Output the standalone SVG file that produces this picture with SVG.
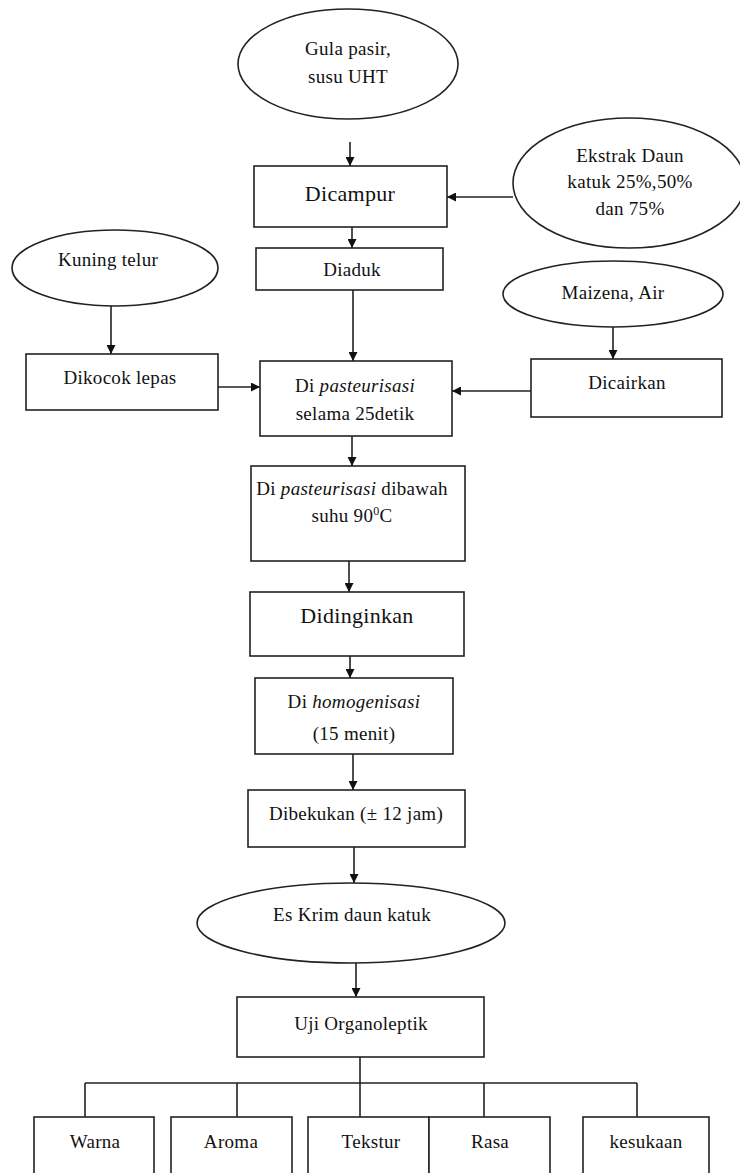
<svg xmlns="http://www.w3.org/2000/svg" width="740" height="1173" viewBox="0 0 740 1173">
<defs>
<marker id="ah" viewBox="0 0 10 10" refX="10" refY="5" markerWidth="9" markerHeight="9" markerUnits="userSpaceOnUse" orient="auto">
<path d="M0,0 L10,5 L0,10 z" fill="#111"/>
</marker>
<style>
.n rect, .n ellipse { fill: #fff; stroke: #222; stroke-width: 1.6; }
.c line, .c polyline { stroke: #222; stroke-width: 1.6; fill: none; }
.c .a { marker-end: url(#ah); }
text { font-family: "Liberation Serif", "Times New Roman", serif; font-size: 19px; fill: #111; text-anchor: middle; letter-spacing: 0.3px; }
.big { font-size: 22px; }
.it { font-style: italic; }
</style>
</defs>
<rect width="740" height="1173" fill="#fff"/>

<g id="connectors" class="c">
<line class="a" x1="350" y1="142" x2="350" y2="166"/>
<line class="a" x1="513" y1="197" x2="447" y2="197"/>
<line class="a" x1="352" y1="227" x2="352" y2="248"/>
<line class="a" x1="111" y1="306" x2="111" y2="354"/>
<line class="a" x1="613" y1="327" x2="613" y2="359"/>
<line class="a" x1="353" y1="290" x2="353" y2="361"/>
<line class="a" x1="218" y1="387" x2="260" y2="387"/>
<line class="a" x1="531" y1="391" x2="452" y2="391"/>
<line class="a" x1="352" y1="436" x2="352" y2="466"/>
<line class="a" x1="349" y1="561" x2="349" y2="592"/>
<line class="a" x1="350" y1="656" x2="350" y2="678"/>
<line class="a" x1="353" y1="754" x2="353" y2="790"/>
<line class="a" x1="354" y1="847" x2="354" y2="883"/>
<line class="a" x1="356" y1="963" x2="356" y2="997"/>
<line x1="360" y1="1057" x2="360" y2="1117"/>
<line x1="85" y1="1083" x2="637" y2="1083"/>
<line x1="85" y1="1083" x2="85" y2="1117"/>
<line x1="237" y1="1083" x2="237" y2="1117"/>
<line x1="484" y1="1083" x2="484" y2="1117"/>
<line x1="637" y1="1083" x2="637" y2="1117"/>
</g>

<g id="gula" class="n">
<ellipse cx="348" cy="64" rx="110" ry="55"/>
<text x="348" y="55">Gula pasir,</text>
<text x="348" y="83">susu UHT</text>
</g>
<g id="dicampur" class="n">
<rect x="254" y="166" width="193" height="61"/>
<text class="big" x="350" y="201">Dicampur</text>
</g>
<g id="ekstrak" class="n">
<ellipse cx="629" cy="183" rx="116" ry="65"/>
<text x="630" y="162">Ekstrak Daun</text>
<text x="630" y="188">katuk 25%,50%</text>
<text x="630" y="215">dan 75%</text>
</g>
<g id="diaduk" class="n">
<rect x="256" y="248" width="187" height="42"/>
<text x="352" y="276">Diaduk</text>
</g>
<g id="kuning" class="n">
<ellipse cx="115" cy="268" rx="103" ry="38"/>
<text x="108" y="266">Kuning telur</text>
</g>
<g id="maizena" class="n">
<ellipse cx="613" cy="294" rx="110" ry="33"/>
<text x="613" y="299">Maizena, Air</text>
</g>
<g id="dikocok" class="n">
<rect x="26" y="354" width="192" height="56"/>
<text x="120" y="384">Dikocok lepas</text>
</g>
<g id="dicairkan" class="n">
<rect x="531" y="359" width="191" height="58"/>
<text x="627" y="389">Dicairkan</text>
</g>
<g id="pasteur1" class="n">
<rect x="260" y="361" width="192" height="75"/>
<text x="355" y="392">Di <tspan class="it">pasteurisasi</tspan></text>
<text x="355" y="420">selama 25detik</text>
</g>
<g id="pasteur2" class="n">
<rect x="251" y="466" width="214" height="95"/>
<text x="352" y="495">Di <tspan class="it">pasteurisasi</tspan> dibawah</text>
<text x="352" y="522">suhu 90<tspan font-size="12" dy="-7">0</tspan><tspan dy="7">C</tspan></text>
</g>
<g id="didinginkan" class="n">
<rect x="250" y="592" width="214" height="64"/>
<text class="big" x="357" y="623">Didinginkan</text>
</g>
<g id="homogen" class="n">
<rect x="255" y="678" width="198" height="76"/>
<text x="354" y="708">Di <tspan class="it">homogenisasi</tspan></text>
<text x="354" y="740">(15 menit)</text>
</g>
<g id="dibekukan" class="n">
<rect x="248" y="790" width="217" height="57"/>
<text x="356" y="820">Dibekukan (± 12 jam)</text>
</g>
<g id="eskrim" class="n">
<ellipse cx="351" cy="923" rx="154" ry="40"/>
<text x="352" y="921">Es Krim daun katuk</text>
</g>
<g id="uji" class="n">
<rect x="237" y="997" width="247" height="60"/>
<text x="361" y="1030">Uji Organoleptik</text>
</g>
<g id="warna" class="n">
<rect x="34" y="1117" width="120" height="70"/>
<text x="95" y="1148">Warna</text>
</g>
<g id="aroma" class="n">
<rect x="171" y="1117" width="121" height="70"/>
<text x="231" y="1148">Aroma</text>
</g>
<g id="tekstur" class="n">
<rect x="308" y="1117" width="121" height="70"/>
<text x="371" y="1148">Tekstur</text>
</g>
<g id="rasa" class="n">
<rect x="429" y="1117" width="121" height="70"/>
<text x="490" y="1148">Rasa</text>
</g>
<g id="kesukaan" class="n">
<rect x="583" y="1117" width="126" height="70"/>
<text x="646" y="1148">kesukaan</text>
</g>
</svg>
